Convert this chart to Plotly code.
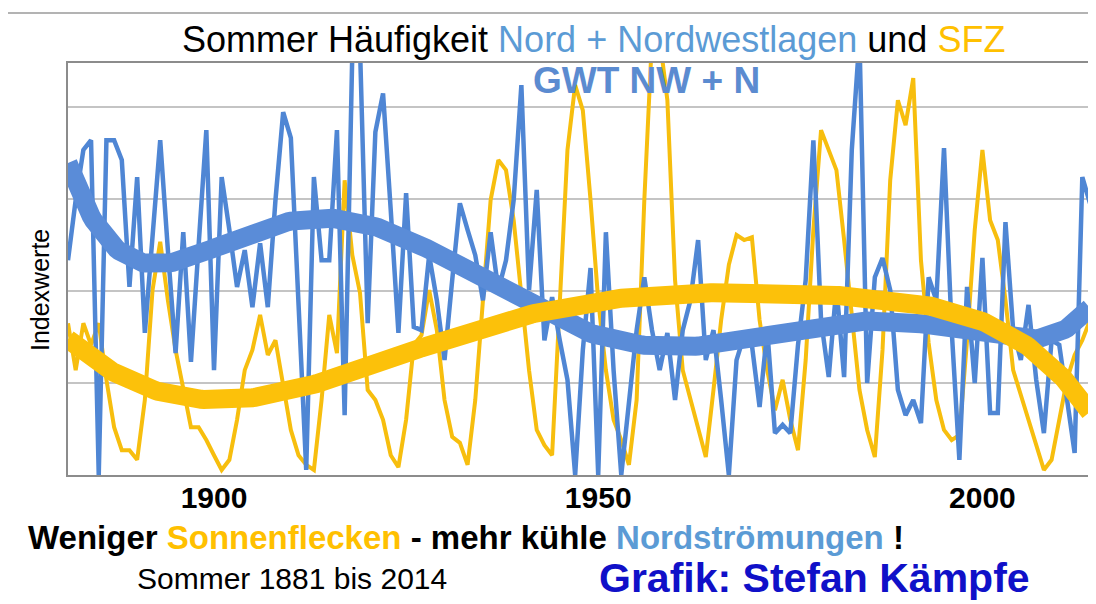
import numpy as np
import plotly.graph_objects as go

# ---------------- data ----------------
years = list(range(1881, 2015))

# Summer frequency index of GWT NW + N (blue thin line)
gwt_nw_n = [
    46.7, 59.8, 70.7, 72.8, 0.0, 72.8, 72.8, 68.5, 40.9, 64.8,
    30.9, 51.7, 72.8, 48.9, 26.5, 52.8, 24.6, 50.0, 75.0, 22.8,
    64.8, 53.3, 40.9, 48.9, 36.5, 50.4, 36.5, 59.8, 78.9, 73.3,
    38.0, 1.1, 64.8, 46.7, 46.7, 75.0, 13.0, 92.0, 93.0, 33.0,
    74.6, 83.0, 57.6, 30.9, 61.3, 32.2, 31.5, 47.8, 38.0, 25.0,
    42.4, 59.1, 53.3, 47.8, 38.0, 52.8, 40.2, 46.7, 59.8, 84.8,
    40.2, 62.0, 29.3, 38.7, 29.3, 20.7, 0.0, 27.2, 45.0, 0.0,
    52.8, 22.8, 0.0, 16.3, 31.5, 43.0, 31.5, 22.8, 30.9, 16.3,
    31.5, 38.0, 51.1, 25.0, 31.5, 16.3, 0.0, 25.0, 30.4, 28.3,
    14.8, 31.5, 9.1, 10.9, 9.1, 28.3, 42.4, 72.8, 33.7, 21.3,
    40.9, 21.3, 70.7, 95.0, 20.0, 43.0, 47.2, 40.2, 18.5, 13.0,
    16.3, 11.3, 43.0, 38.0, 71.1, 31.5, 3.3, 40.9, 20.0, 47.2,
    13.5, 13.5, 55.0, 31.5, 25.0, 37.0, 20.7, 9.1, 29.3, 28.3,
    16.3, 4.8, 64.8, 59.1,
]

# Summer sunspot index SFZ (yellow thin line)
sfz = [
    33.0, 22.8, 33.0, 28.3, 33.0, 20.7, 10.4, 5.4, 5.4, 3.3,
    16.3, 40.2, 50.7, 38.0, 27.2, 18.5, 10.4, 10.4, 7.6, 4.3,
    1.1, 3.3, 12.0, 22.8, 27.2, 34.8, 26.1, 29.3, 19.6, 9.8,
    4.3, 2.2, 1.1, 16.3, 34.8, 26.5, 64.1, 47.8, 39.6, 18.5,
    16.3, 12.0, 4.3, 1.7, 12.0, 28.3, 30.4, 40.2, 31.5, 16.3,
    8.3, 7.0, 2.2, 16.3, 38.0, 59.8, 68.5, 66.3, 55.4, 38.0,
    22.8, 9.8, 6.5, 4.3, 38.0, 70.7, 84.8, 79.3, 59.8, 38.0,
    22.8, 12.0, 7.6, 2.2, 16.3, 59.8, 95.0, 95.0, 81.5, 42.4,
    22.8, 16.3, 9.8, 3.9, 18.5, 33.7, 45.7, 52.2, 51.1, 51.7,
    33.7, 22.8, 14.1, 20.7, 12.0, 5.4, 25.0, 53.3, 75.0, 70.7,
    66.3, 51.1, 33.7, 18.5, 9.8, 3.9, 27.2, 64.1, 81.5, 76.1,
    86.3, 46.7, 28.7, 16.3, 9.8, 7.6, 8.7, 29.3, 53.3, 70.7,
    55.4, 51.1, 38.0, 22.8, 17.4, 12.0, 6.5, 1.1, 3.3, 12.0,
    20.7, 26.1, 29.3, 33.7,
]

x_tick_vals = [1900, 1950, 2000]
x_tick_text = ["1900", "1950", "2000"]
y_grid_vals = [20, 40, 60, 80]

# ---------------- polynomial trend lines (order 6, as in the original) ----------------
yrs = np.array(years, dtype=float)
def poly_trend(values, order=6):
    p = np.polynomial.Polynomial.fit(yrs, np.array(values, dtype=float), order)
    xs = np.linspace(yrs[0], yrs[-1], 400)
    return xs, p(xs)

bx, by = poly_trend(gwt_nw_n)
sx, sy = poly_trend(sfz)

BLUE = "#4F86D4"
BLUE_T = "#5A8CD8"
YELLOW = "#F7BE0E"
YELLOW_T = "#FCC10A"

fig = go.Figure()
fig.add_trace(go.Scatter(x=years, y=sfz, mode="lines",
                         line=dict(color=YELLOW, width=4), name="SFZ"))
fig.add_trace(go.Scatter(x=years, y=gwt_nw_n, mode="lines",
                         line=dict(color=BLUE, width=4.5), name="GWT NW + N"))
fig.add_trace(go.Scatter(x=bx, y=by, mode="lines",
                         line=dict(color=BLUE_T, width=19), name="Trend GWT"))
fig.add_trace(go.Scatter(x=sx, y=sy, mode="lines",
                         line=dict(color=YELLOW_T, width=19), name="Trend SFZ"))

# page body has an 8px margin -> figure is drawn 8px right/down
OFF = 8
W, H = 1096 - OFF, 604 - OFF
PL, PT, PR, PB = 68, 63, 1092, 475          # plot area in screen pixels
L, T = PL - OFF, PT - OFF
R = W - (PR - OFF)
B = H - (PB - OFF)
PW, PH = PR - PL, PB - PT
def px(X): return (X - PL) / PW
def py(Y): return (PB - Y) / PH

FONT = "Liberation Sans, Arial, sans-serif"

annotations = [
    dict(text="Sommer Häufigkeit <span style='color:#5B9BD5'>Nord + Nordwestlagen</span> und "
              "<span style='color:#FFC000'>SFZ</span>",
         x=px(595), y=py(40), font=dict(size=36, color="black", family=FONT)),
    dict(text="<b>GWT NW + N</b>", x=px(648), y=py(80),
         font=dict(size=37, color="#5B8BD0", family=FONT)),
    dict(text="Indexwerte", x=px(40), y=py(290), textangle=-90,
         font=dict(size=25, color="black", family=FONT)),
    dict(text="<b>Weniger <span style='color:#FFC000'>Sonnenflecken</span> - mehr kühle "
              "<span style='color:#5B9BD5'>Nordströmungen</span> !</b>",
         x=px(467), y=py(537), font=dict(size=33, color="black", family=FONT)),
    dict(text="Sommer 1881 bis 2014", x=px(292), y=py(578),
         font=dict(size=30, color="black", family=FONT)),
    dict(text="<b>Grafik: Stefan Kämpfe</b>", x=px(816), y=py(578),
         font=dict(size=41, color="#1010C8", family=FONT)),
]
for a in annotations:
    a.update(xref="paper", yref="paper", showarrow=False, xanchor="center", yanchor="middle")

fig.update_layout(
    width=W, height=H,
    margin=dict(l=L, r=R, t=T, b=B),
    paper_bgcolor="white", plot_bgcolor="white",
    showlegend=False,
    annotations=annotations,
    shapes=[dict(type="rect", xref="paper", yref="paper",
                 x0=px(4), x1=px(1120), y0=py(640), y1=py(13),
                 line=dict(color="#9A9A9A", width=1.5), layer="below")],
)
fig.update_xaxes(range=[1881, 2014], tickvals=x_tick_vals, ticktext=x_tick_text,
                 showgrid=False, zeroline=False, ticks="", ticklabelstandoff=-5,
                 tickfont=dict(size=30, color="black", family=FONT, weight="bold"),
                 showline=True, mirror=True, linecolor="#8C8C8C", linewidth=1.5)
fig.update_yaxes(range=[0, 89.6], tickvals=y_grid_vals, showticklabels=False,
                 showgrid=True, gridcolor="#C4C4C4", gridwidth=1.5, zeroline=False,
                 showline=True, mirror=True, linecolor="#8C8C8C", linewidth=1.5)

fig.write_html("out.html")
